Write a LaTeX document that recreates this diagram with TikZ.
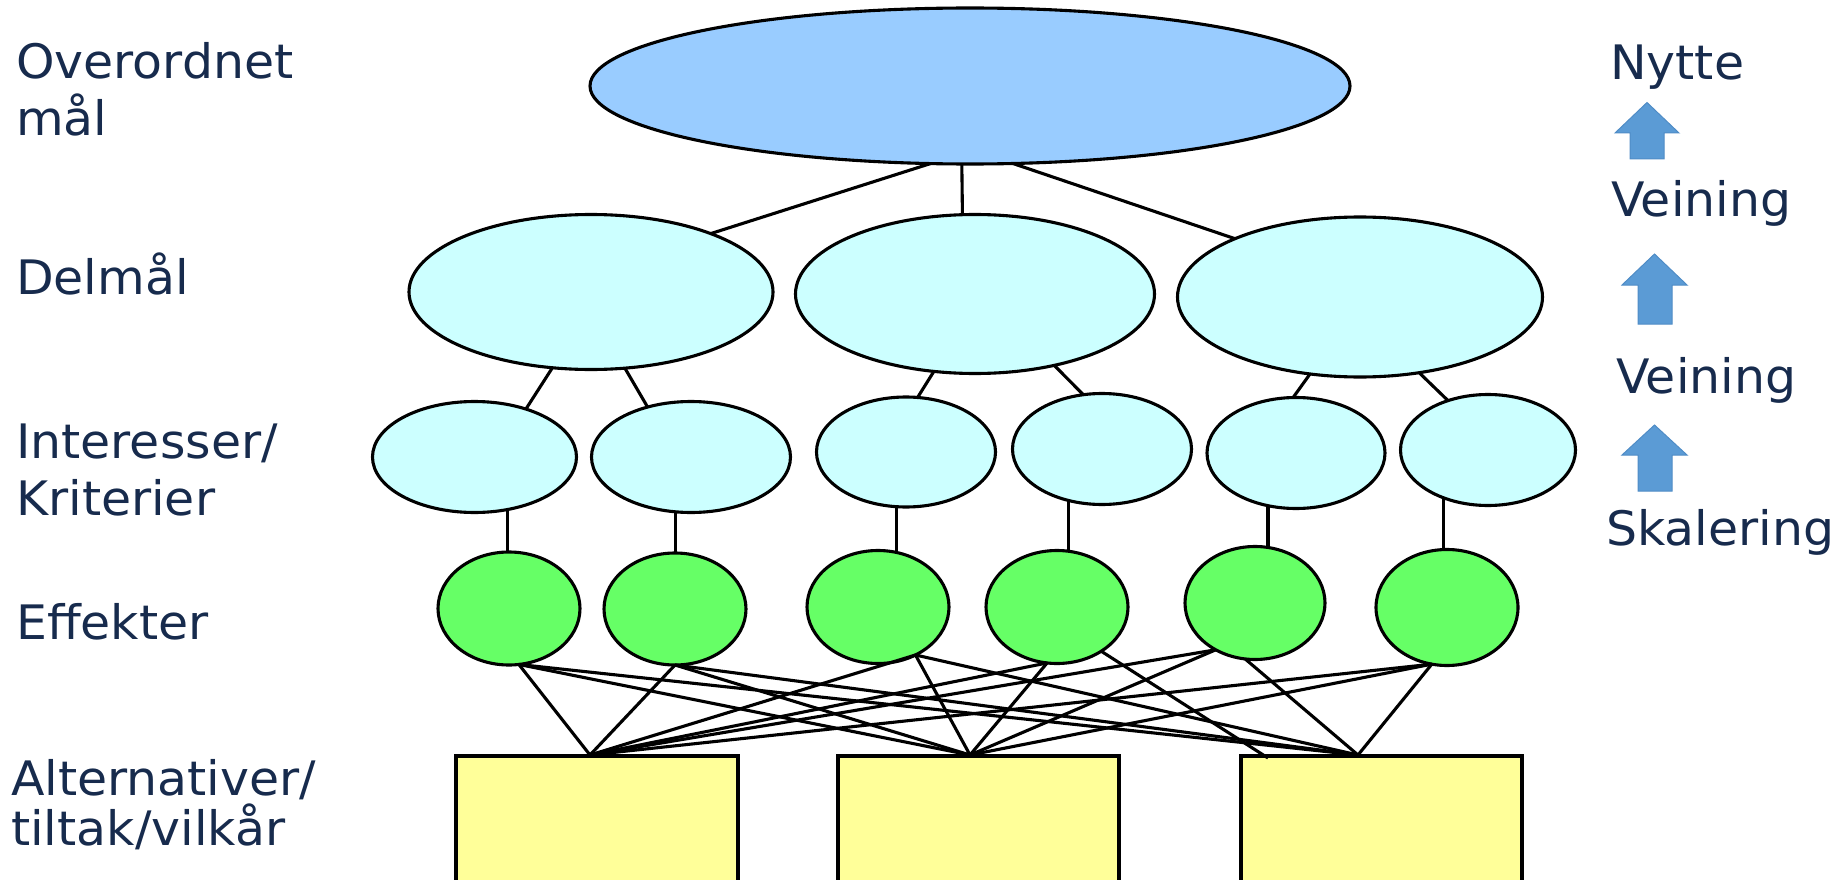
\documentclass[tikz,border=0pt]{standalone}
\usepackage{fontspec}
\setmainfont{DejaVu Sans}[FakeStretch=1.03]
\usetikzlibrary{shapes.geometric}
\definecolor{txt}{HTML}{172B4D}
\definecolor{topfill}{HTML}{99CCFF}
\definecolor{subfill}{HTML}{CCFFFF}
\definecolor{efffill}{HTML}{66FF66}
\definecolor{altfill}{HTML}{FFFF99}
\definecolor{arrowblue}{HTML}{5B9BD5}
\definecolor{arrowedge}{HTML}{4F8CC6}
\tikzset{
  oval/.style={ellipse, draw=black, line width=3.1pt, inner sep=0pt, outer sep=0pt},
  topgoal/.style={oval, fill=topfill},
  subgoal/.style={oval, fill=subfill},
  effect/.style={oval, fill=efffill},
  altbox/.style={rectangle, draw=black, line width=3.2pt, fill=altfill, inner sep=0pt, outer sep=0pt},
  link/.style={draw=black, line width=3.1pt},
  lab/.style={anchor=base west, inner sep=0pt, text=txt, font=\fontsize{47.5}{56}\selectfont},
  uparrow/.style={fill=arrowblue, draw=arrowedge, line width=1pt}
}
\begin{document}
\begin{tikzpicture}[x=1pt,y=-1pt]
\useasboundingbox (0,0) rectangle (1837,880);

% top goal
\node[topgoal, minimum width=760, minimum height=156] (T) at (970,86) {};
% sub goals
\node[subgoal, minimum width=364, minimum height=155] (D1) at (591,292) {};
\node[subgoal, minimum width=359, minimum height=159] (D2) at (975,294) {};
\node[subgoal, minimum width=365, minimum height=160] (D3) at (1360,297) {};
% interests / criteria
\node[subgoal, minimum width=204, minimum height=111] (I1) at (474.5,457) {};
\node[subgoal, minimum width=199, minimum height=111] (I2) at (691,457) {};
\node[subgoal, minimum width=179, minimum height=110] (I3) at (906,452) {};
\node[subgoal, minimum width=179, minimum height=111] (I4) at (1102,449) {};
\node[subgoal, minimum width=178, minimum height=111] (I5) at (1296,453) {};
\node[subgoal, minimum width=175, minimum height=111] (I6) at (1488,450) {};
% effects
\node[effect, minimum width=142, minimum height=113] (E1) at (509,608.5) {};
\node[effect, minimum width=142, minimum height=112] (E2) at (675,609) {};
\node[effect, minimum width=142, minimum height=113] (E3) at (878,607) {};
\node[effect, minimum width=142, minimum height=113] (E4) at (1057,607) {};
\node[effect, minimum width=140, minimum height=113] (E5) at (1255,603) {};
\node[effect, minimum width=142, minimum height=116] (E6) at (1447,607.5) {};
% alternatives
\node[altbox, minimum width=282, minimum height=126] (R1) at (597,819) {};
\node[altbox, minimum width=281, minimum height=126] (R2) at (978.5,819) {};
\node[altbox, minimum width=281, minimum height=126] (R3) at (1381.5,819) {};
\coordinate (pA) at (590,755);
\coordinate (pB) at (970,755);
\coordinate (pC) at (1358,755);
\coordinate (pX) at (1268,758);

% top -> sub goals
\draw[link] (T.-117) -- (D1.26);
\draw[link] (T.-96) -- (D2.99);
\draw[link] (T.-61) -- (D3.155);
% sub goals -> interests
\draw[link] (D1.-117) -- (I1.43);
\draw[link] (D1.-66) -- (I2.131);
\draw[link] (D2.-118) -- (I3.78);
\draw[link] (D2.-42) -- (I4.109);
\draw[link] (D3.-123) -- (I5.93);
\draw[link] (D3.-52) -- (I6.129);
% interests -> effects
\draw[link] (I1.-58) -- (I1.-58 |- E1.north);
\draw[link] (I2.-106) -- (I2.-106 |- E2.north);
\draw[link] (I3.-100) -- (I3.-100 |- E3.north);
\draw[link] (I4.-123.5) -- (I4.-123.5 |- E4.north);
\draw[link] (I5.-118) -- (I5.-118 |- E5.north);
\draw[link] (I6.-133) -- (I6.-133 |- E6.north);
% effects -> alternatives
\draw[link] (E1.-80) -- (pA);
\draw[link] (E1.-80) -- (pB);
\draw[link] (E1.-80) -- (pC);
\draw[link] (E2.-90) -- (pA);
\draw[link] (E2.-90) -- (pB);
\draw[link] (E2.-90) -- (pC);
\draw[link] (E3.-52) -- (pA);
\draw[link] (E3.-52) -- (pB);
\draw[link] (E3.-52) -- (pC);
\draw[link] (E4.-100) -- (pA);
\draw[link] (E4.-100) -- (pB);
\draw[link] (E4.-45) -- (pX);
\draw[link] (E5.-130) -- (pA);
\draw[link] (E5.-130) -- (pB);
\draw[link] (E5.-100) -- (pC);
\draw[link] (E6.-105) -- (pA);
\draw[link] (E6.-105) -- (pB);
\draw[link] (E6.-105) -- (pC);

% left labels
\node[lab] (l1a) at (16,79) {Overordnet};
\node[lab] (l1b) at (16,136) {mål};
\node[lab] (l2) at (16,294) {Delmål};
\node[lab] (l3a) at (16,458) {Interesser/};
\node[lab] (l3b) at (16,515) {Kriterier};
\node[lab] (l4) at (16,639) {Effekter};
\node[lab] (l5a) at (11,795) {Alternativer/};
\node[lab] (l5b) at (11,845) {tiltak/vilkår};

% right labels
\node[lab] (r1) at (1610,80) {Nytte};
\node[lab] (r2) at (1611,216) {Veining};
\node[lab] (r3) at (1616,393) {Veining};
\node[lab] (r4) at (1606,545) {Skalering};

% block arrows
\path[uparrow] (1630,159) -- (1630,133) -- (1615,133) -- (1647,102.5) -- (1679,133) -- (1664,133) -- (1664,159) -- cycle;
\path[uparrow] (1638,324) -- (1638,285) -- (1622,285) -- (1654.5,254) -- (1687,285) -- (1672,285) -- (1672,324) -- cycle;
\path[uparrow] (1638,491) -- (1638,455) -- (1622,455) -- (1654.5,425) -- (1687,455) -- (1672,455) -- (1672,491) -- cycle;
\end{tikzpicture}
\end{document}
